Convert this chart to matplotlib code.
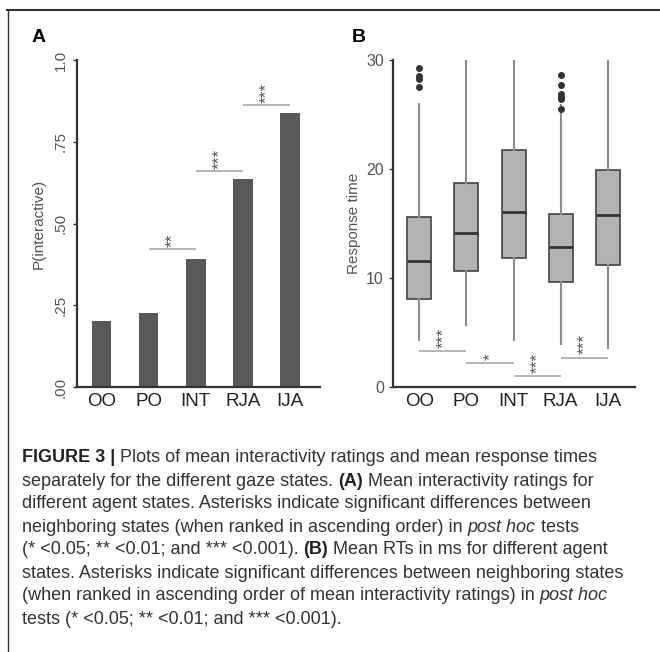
import matplotlib
matplotlib.use("Agg")
import matplotlib.pyplot as plt
from matplotlib.lines import Line2D

# gaze states
states = ["OO", "PO", "INT", "RJA", "IJA"]

# panel A: P(interactive)
p_interactive = [0.203, 0.225, 0.392, 0.637, 0.837]
yticks_a = [0.0, 0.25, 0.5, 0.75, 1.0]
yticklabels_a = [".00", ".25", ".50", ".75", "1.0"]
# significance between neighbours (left index, y, label)
sig_a_left = [1, 2, 3]
sig_a_y = [0.421, 0.660, 0.862]
sig_a_lab = ["**", "***", "***"]

# panel B: response time boxplots
rt_whislo = [4.3, 5.7, 4.3, 3.9, 3.6]
rt_q1 = [8.05, 10.6, 11.8, 9.66, 11.17]
rt_med = [11.6, 14.1, 16.1, 12.87, 15.8]
rt_q3 = [15.6, 18.7, 21.7, 15.9, 19.9]
rt_whishi = [26.0, 29.9, 30.0, 25.9, 30.0]
rt_fliers = [[29.3, 28.5, 28.3, 27.5], [], [], [28.6, 27.7, 26.9, 26.6, 26.45, 25.5], []]
yticks_b = [0, 10, 20, 30]
sig_b_left = [0, 1, 2, 3]
sig_b_y = [3.3, 2.17, 1.0, 2.7]
sig_b_lab = ["***", "*", "***", "***"]

caption = [
    [("FIGURE 3 | ", "bold"), ("Plots of mean interactivity ratings and mean response times", "normal")],
    [("separately for the different gaze states. ", "normal"), ("(A)", "bold"), (" Mean interactivity ratings for", "normal")],
    [("different agent states. Asterisks indicate significant differences between", "normal")],
    [("neighboring states (when ranked in ascending order) in ", "normal"), ("post hoc", "italic"), (" tests", "normal")],
    [("(* <0.05; ** <0.01; and *** <0.001). ", "normal"), ("(B)", "bold"), (" Mean RTs in ms for different agent", "normal")],
    [("states. Asterisks indicate significant differences between neighboring states", "normal")],
    [("(when ranked in ascending order of mean interactivity ratings) in ", "normal"), ("post hoc", "italic")],
    [("tests (* <0.05; ** <0.01; and *** <0.001).", "normal")],
]

plt.rcParams['font.family'] = ['Liberation Sans', 'DejaVu Sans']

W, H = 660, 652
fig = plt.figure(figsize=(6.6, 6.52), dpi=100)

def fx(px):
    return px / W

def fy(py):
    return 1 - py / H

# frame lines (top and left)
fig.add_artist(Line2D([fx(7), 1], [fy(10), fy(10)], color="#333333", lw=1.5))
fig.add_artist(Line2D([fx(8), fx(8)], [fy(10), 0], color="#333333", lw=1.0))

axis_col = "#333333"
tick_col = "#555555"

def style_axes(ax):
    for s in ["top", "right"]:
        ax.spines[s].set_visible(False)
    for s in ["left", "bottom"]:
        ax.spines[s].set_color(axis_col)
        ax.spines[s].set_linewidth(1.6)
    ax.tick_params(axis="x", length=0, labelsize=13.5, colors="#222222", pad=4)
    ax.tick_params(axis="y", length=3, width=1, color=axis_col, labelcolor=tick_col, labelsize=11)

# ---------- panel A ----------
axA = fig.add_axes([fx(77), fy(387), fx(320 - 77), (387 - 60) / H])
x = list(range(len(states)))
axA.bar(x, p_interactive, width=0.42, color="#595959")
axA.set_xlim(-0.52, 4.64)
axA.set_ylim(0, 1.0)
axA.set_xticks(x)
axA.set_xticklabels(states)
axA.set_yticks(yticks_a)
axA.set_yticklabels(yticklabels_a, rotation=90, va="center")
axA.set_ylabel("P(interactive)", fontsize=11, color="#555555", labelpad=6)
style_axes(axA)
for i, y, lab in zip(sig_a_left, sig_a_y, sig_a_lab):
    axA.plot([i, i + 1], [y, y], color="#a8a8a8", lw=1.2, solid_capstyle="butt")
    axA.text(i + 0.5, y + 0.008, lab, rotation=90, ha="center", va="bottom",
             fontsize=12.5, color="#555555")

# ---------- panel B ----------
axB = fig.add_axes([fx(393), fy(387), fx(635 - 393), (387 - 60) / H])
stats = []
for i in range(len(states)):
    stats.append(dict(med=rt_med[i], q1=rt_q1[i], q3=rt_q3[i],
                      whislo=rt_whislo[i], whishi=rt_whishi[i],
                      fliers=rt_fliers[i], label=states[i]))
axB.bxp(stats, positions=x, widths=0.51, patch_artist=True, showcaps=False,
        boxprops=dict(facecolor="#b3b3b3", edgecolor="#444444", linewidth=1.2),
        medianprops=dict(color="#333333", linewidth=2),
        whiskerprops=dict(color="#8c8c8c", linewidth=1.5),
        flierprops=dict(marker="o", markersize=4, markerfacecolor="#333333",
                        markeredgecolor="#333333"))
axB.set_xlim(-0.56, 4.58)
axB.set_ylim(0, 30)
axB.set_xticks(x)
axB.set_xticklabels(states)
axB.set_yticks(yticks_b)
axB.set_ylabel("Response time", fontsize=11, color="#555555", labelpad=4)
style_axes(axB)
axB.tick_params(axis="y", labelsize=11.5)
for i, y, lab in zip(sig_b_left, sig_b_y, sig_b_lab):
    axB.plot([i, i + 1], [y, y], color="#a8a8a8", lw=1.2, solid_capstyle="butt")
    axB.text(i + 0.5, y + 0.3, lab, rotation=90, ha="center", va="bottom",
             fontsize=12.5, color="#555555")

# panel letters
fig.text(fx(32), fy(38), "A", fontsize=14, fontweight="bold", va="center")
fig.text(fx(352), fy(38), "B", fontsize=14, fontweight="bold", va="center")

# ---------- caption ----------
renderer = fig.canvas.get_renderer()
y0 = 458
for k, line in enumerate(caption):
    xpos = 22
    for txt, style in line:
        kw = dict(fontsize=13, color="#333333", va="center", ha="left")
        if style == "bold":
            kw["fontweight"] = "bold"
            kw["color"] = "#222222"
        elif style == "italic":
            kw["fontstyle"] = "italic"
        t = fig.text(fx(xpos), fy(y0 + 23 * k), txt, **kw)
        bb = t.get_window_extent(renderer=renderer)
        xpos += bb.width
fig.savefig("out.png", dpi=100)
